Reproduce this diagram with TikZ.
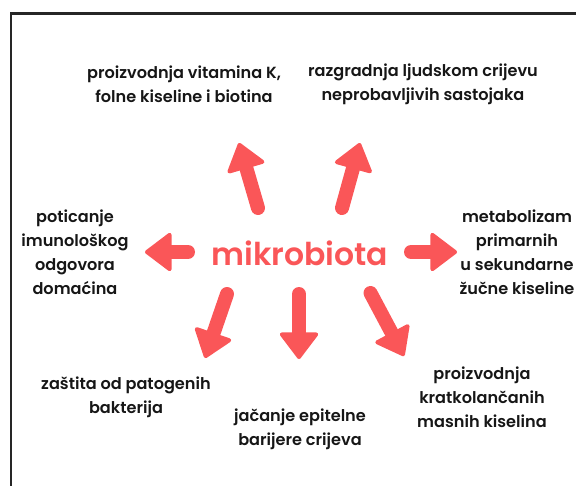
\documentclass[tikz,border=0pt]{standalone}
\usepackage{fontspec}
\setmainfont{Poppins}[UprightFont=* Medium,BoldFont=* SemiBold]
\newfontfamily\popsemi{Poppins SemiBold}
\usetikzlibrary{arrows.meta}
\definecolor{mbred}{RGB}{250,86,88}
\definecolor{mbtext}{RGB}{22,22,22}

\begin{document}
\begin{tikzpicture}[x=0.75pt,y=0.75pt,yscale=-1,xscale=1,
  bigarrow/.style={draw=mbred,line width=10.5pt,line cap=round,-{Triangle[width=31pt,length=21pt,round,line width=3pt]}},
  txt/.style={align=center,text=mbtext,font=\popsemi\fontsize{12.1}{18}\selectfont}]
\path[use as bounding box] (0,0) rectangle (576,486);

%Shape: Frame
\draw [color=black!85, line width=1.9pt] (11,486) -- (11,13.5) -- (576,13.5) ;

% Text Node
\draw (300,253) node (mikro) [font=\fontsize{23.6}{28}\selectfont\bfseries, text=mbred] {mikrobiota};

%Arrow ends
\coordinate (ulS) at (258,208) ; \coordinate (ulE) at (239,143) ;
\coordinate (urS) at (342,208) ; \coordinate (urE) at (360,143) ;
\coordinate (lS) at (188,252) ; \coordinate (lE) at (145,252) ;
\coordinate (rS) at (411,252) ; \coordinate (rE) at (457,252) ;
\coordinate (blS) at (227,294) ; \coordinate (blE) at (205,358) ;
\coordinate (bS) at (299,294) ; \coordinate (bE) at (299,359) ;
\coordinate (brS) at (370.5,293) ; \coordinate (brE) at (404,356) ;

%Arrows
\draw [bigarrow] (ulS) -- (ulE) ;
\draw [bigarrow] (urS) -- (urE) ;
\draw [bigarrow] (lS) -- (lE) ;
\draw [bigarrow] (rS) -- (rE) ;
\draw [bigarrow] (blS) -- (blE) ;
\draw [bigarrow] (bS) -- (bE) ;
\draw [bigarrow] (brS) -- (brE) ;

% Text Node
\draw (184,84) node (vit) [txt] {proizvodnja vitamina K,\\folne kiseline i biotina};
% Text Node
\draw (423,84) node (razg) [txt] {razgradnja ljudskom crijevu\\neprobavljivih sastojaka};
% Text Node
\draw (75,252) node (imun) [txt] {poticanje\\imunološkog\\odgovora\\domaćina};
% Text Node
\draw (517,252) node (zuc) [txt] {metabolizam\\primarnih\\u sekundarne\\žučne kiseline};
% Text Node
\draw (126,397) node (zast) [txt] {zaštita od patogenih\\bakterija};
% Text Node
\draw (300,429) node (epit) [txt] {jačanje epitelne\\barijere crijeva};
% Text Node
\draw (482,397) node (masn) [txt] {proizvodnja\\kratkolančanih\\masnih kiselina};

\end{tikzpicture}
\end{document}
